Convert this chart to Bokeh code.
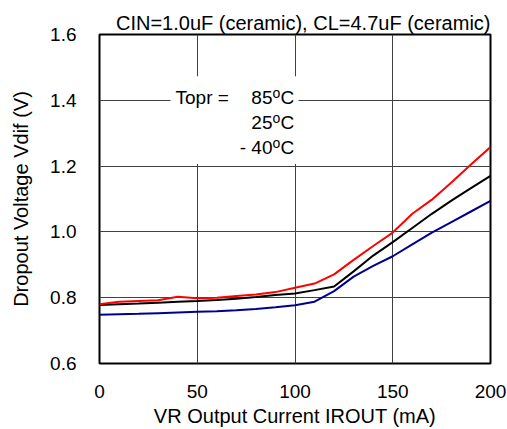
from bokeh.plotting import figure
from bokeh.models import Range1d, FixedTicker, BoxAnnotation, Label, CustomJSTickFormatter
from bokeh.embed import file_html
from bokeh.resources import INLINE

# ---- data ----
current_ma = [0, 10, 20, 30, 40, 50, 60, 70, 80, 90, 100, 110, 120, 130, 140, 150, 160, 170, 180, 190, 200]
vdif_85c = [0.780, 0.788, 0.790, 0.792, 0.803, 0.798, 0.800, 0.805, 0.810, 0.817, 0.830, 0.843, 0.871, 0.915, 0.957, 0.998, 1.055, 1.098, 1.150, 1.205, 1.258]
vdif_25c = [0.778, 0.780, 0.782, 0.785, 0.788, 0.790, 0.793, 0.797, 0.802, 0.808, 0.813, 0.823, 0.834, 0.880, 0.928, 0.969, 1.012, 1.055, 1.095, 1.133, 1.170]
vdif_m40c = [0.748, 0.750, 0.751, 0.753, 0.755, 0.757, 0.759, 0.762, 0.766, 0.771, 0.777, 0.788, 0.820, 0.864, 0.897, 0.926, 0.962, 0.998, 1.030, 1.062, 1.094]

x_ticks = [0, 50, 100, 150, 200]
y_ticks = [0.6, 0.8, 1.0, 1.2, 1.4, 1.6]
temps = ["85", "25", "- 40"]
title_text = "CIN=1.0uF (ceramic), CL=4.7uF (ceramic)"
x_title = "VR Output Current IROUT (mA)"
y_title = "Dropout Voltage Vdif (V)"

FONT = "Liberation Sans"

p = figure(width=507, height=429, output_backend="svg", toolbar_location=None,
           x_range=Range1d(0, 200), y_range=Range1d(0.6, 1.6),
           min_border_left=99, min_border_right=17, min_border_bottom=65, min_border_top=34)

p.title.text = title_text
p.title.align = "right"
p.title.text_font = FONT
p.title.text_font_size = "20px"
p.title.text_font_style = "normal"
p.title.text_color = "black"
p.title.standoff = 2

p.outline_line_color = "black"
p.outline_line_width = 2
p.background_fill_color = "white"
p.border_fill_color = "white"

for ax in (p.xaxis[0], p.yaxis[0]):
    ax.axis_line_color = None
    ax.major_tick_line_color = None
    ax.minor_tick_line_color = None
    ax.major_tick_in = 0
    ax.major_tick_out = 0
    ax.minor_tick_in = 0
    ax.minor_tick_out = 0
    ax.major_label_text_font = FONT
    ax.major_label_text_font_size = "19px"
    ax.major_label_text_color = "black"
    ax.axis_label_text_font = FONT
    ax.axis_label_text_font_size = "20px"
    ax.axis_label_text_font_style = "normal"
    ax.axis_label_text_color = "black"

p.xaxis[0].ticker = FixedTicker(ticks=x_ticks)
p.yaxis[0].ticker = FixedTicker(ticks=y_ticks)
p.yaxis[0].formatter = CustomJSTickFormatter(code="return tick.toFixed(1);")
p.xaxis[0].major_label_standoff = 21
p.yaxis[0].major_label_standoff = 23
p.xaxis[0].axis_label = x_title
p.yaxis[0].axis_label = y_title
p.xaxis[0].axis_label_standoff = 4
p.yaxis[0].axis_label_standoff = 15

p.xgrid.ticker = FixedTicker(ticks=x_ticks)
p.ygrid.ticker = FixedTicker(ticks=y_ticks)
for g in (p.xgrid[0], p.ygrid[0]):
    g.grid_line_color = "#404040"
    g.grid_line_width = 1

p.line(current_ma, vdif_m40c, line_color="#000090", line_width=2)
p.line(current_ma, vdif_25c, line_color="black", line_width=2)
p.line(current_ma, vdif_85c, line_color="#ff0000", line_width=2)

# legend-like annotation with white background
def px_x(px):
    return (px - 99) / 391 * 200

def px_y(py):
    return 1.6 - (py - 34) / 330

box = BoxAnnotation(left=px_x(170), right=px_x(298), top=px_y(76), bottom=px_y(164),
                    fill_color="white", fill_alpha=1.0, line_color=None)
p.add_layout(box)

row_y = [97, 122, 147]
p.add_layout(Label(x=px_x(175), y=px_y(row_y[0]), text="Topr =", text_font=FONT,
                   text_font_size="19px", text_color="black",
                   text_baseline="middle", text_align="left"))
for t, ry in zip(temps, row_y):
    p.add_layout(Label(x=px_x(272), y=px_y(ry), text=t, text_font=FONT,
                       text_font_size="19px", text_color="black",
                       text_baseline="middle", text_align="right"))
    p.add_layout(Label(x=px_x(272), y=px_y(ry - 12), text="o", text_font=FONT,
                       text_font_size="14px", text_color="black",
                       text_baseline="top", text_align="left"))
    p.add_layout(Label(x=px_x(280), y=px_y(ry), text="C", text_font=FONT,
                       text_font_size="19px", text_color="black",
                       text_baseline="middle", text_align="left"))

open("out.html", "w").write(file_html(p, INLINE))
